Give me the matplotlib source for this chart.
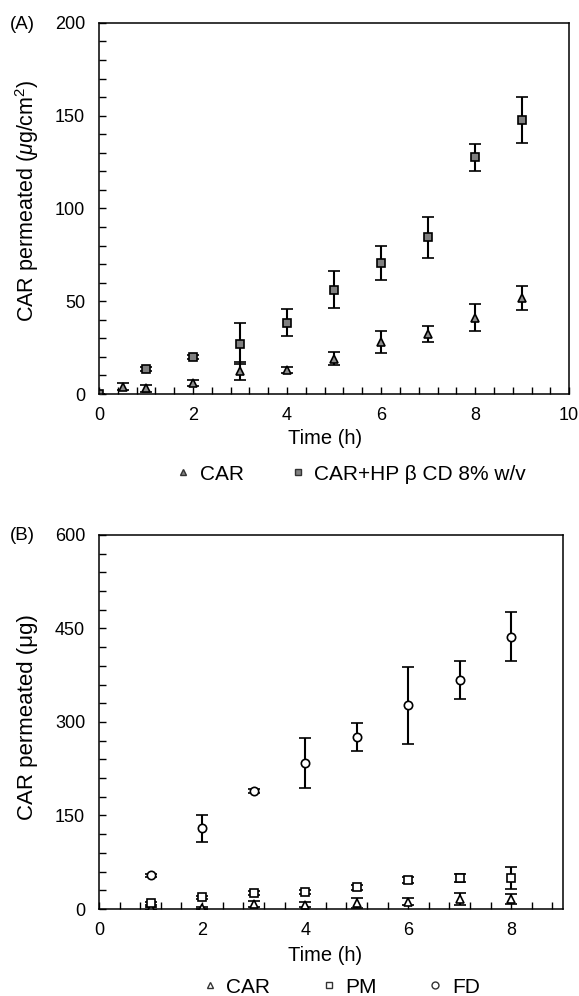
import matplotlib
matplotlib.use("Agg")
import matplotlib.pyplot as plt
from matplotlib.lines import Line2D
from matplotlib.ticker import MultipleLocator

plt.rcParams['font.family'] = ['Liberation Sans', 'DejaVu Sans']
plt.rcParams['mathtext.fontset'] = 'custom'
plt.rcParams['mathtext.rm'] = 'Liberation Sans'
plt.rcParams['mathtext.it'] = 'Liberation Sans:italic'

# (A) permeation per area
a_car_t = [0, 0.5, 1, 2, 3, 4, 5, 6, 7, 8, 9]
a_car = [0, 4, 3, 5.8, 12.4, 13, 19, 28.2, 32.4, 41.2, 51.6]
a_car_err = [0, 2, 2, 1.5, 4.7, 1.5, 3.5, 6, 4.5, 7.3, 6.5]

a_cd_t = [0, 1, 2, 3, 4, 5, 6, 7, 8, 9]
a_cd = [0, 13.3, 19.8, 27.2, 38.5, 56.1, 70.7, 84.5, 127.5, 147.8]
a_cd_err = [0, 1, 1, 11, 7.3, 10, 9, 11, 7.5, 12.5]

# (B) permeated amount
b_t = [1, 2, 3, 4, 5, 6, 7, 8]
b_car = [1, 1.6, 8.5, 7, 9.6, 12, 16, 16.6]
b_car_err = [2, 2, 5, 4, 8, 6, 10, 8]
b_pm = [9, 18.7, 25.6, 27.8, 35.3, 47, 49.7, 49.7]
b_pm_err = [2, 3, 3, 3, 4, 5, 6, 17]
b_fd = [54, 129.3, 189, 234.5, 275.6, 326.4, 367, 437]
b_fd_err = [3, 21, 3, 40, 22, 62, 30, 40]

fig = plt.figure(figsize=(5.79, 9.96), dpi=100)
axA = fig.add_axes([0.171, 0.6044, 0.812, 0.3726])
axB = fig.add_axes([0.171, 0.0873, 0.801, 0.3757])

eb = dict(ls='none', ecolor='black', elinewidth=1.5, capsize=4, capthick=1.5,
          markeredgecolor='black', markeredgewidth=1.2, ms=6)

axA.errorbar(a_car_t, a_car, yerr=a_car_err, marker='^', mfc='#8c8c8c', **eb)
axA.errorbar(a_cd_t, a_cd, yerr=a_cd_err, marker='s', mfc='#808080', **eb)

axB.errorbar(b_t, b_car, yerr=b_car_err, marker='^', mfc='white', **eb)
axB.errorbar(b_t, b_pm, yerr=b_pm_err, marker='s', mfc='white', **eb)
axB.errorbar(b_t, b_fd, yerr=b_fd_err, marker='o', mfc='white', **eb)

def style(ax, xmax, ymax, ymaj, ymin):
    ax.set_xlim(0, xmax)
    ax.set_ylim(0, ymax)
    ax.xaxis.set_major_locator(MultipleLocator(2))
    ax.xaxis.set_minor_locator(MultipleLocator(0.4))
    ax.yaxis.set_major_locator(MultipleLocator(ymaj))
    ax.yaxis.set_minor_locator(MultipleLocator(ymin))
    ax.tick_params(which='both', direction='in', length=5, width=1,
                   top=False, right=False, labelsize=13)
    ax.tick_params(axis='x', pad=9)
    ax.tick_params(axis='y', pad=10)
    for s in ax.spines.values():
        s.set_linewidth(1.1)
    ax.set_xlabel('Time (h)', fontsize=14.5, va='center')

style(axA, 10, 200, 50, 10)
style(axB, 9, 600, 150, 30)

axA.xaxis.set_label_coords(0.48, -0.121)
axB.xaxis.set_label_coords(0.487, -0.123)

axA.set_ylabel(r'CAR permeated ($\mu$g/cm$^2$)', fontsize=15.5, va='center')
axB.set_ylabel('CAR permeated (\u03bcg)', fontsize=16, va='center')
axA.yaxis.set_label_coords(-0.153, 0.52)
axB.yaxis.set_label_coords(-0.155, 0.513)

fig.text(0.017, 0.975, '(A)', fontsize=13.5, va='center')
fig.text(0.017, 0.462, '(B)', fontsize=13.5, va='center')

def mk(marker, fc):
    return Line2D([], [], ls='none', marker=marker, ms=5, mfc=fc,
                  mec='#333333', mew=1)

legA = fig.legend([mk('^', '#808080'), mk('s', '#808080')],
                  ['CAR', 'CAR+HP \u03b2 CD 8% w/v'],
                  loc='center', bbox_to_anchor=(0.605, 0.524), ncol=2,
                  frameon=False, fontsize=15, handlelength=0.8,
                  handletextpad=0.4, columnspacing=2.2,
                  borderpad=0, borderaxespad=0)
legB = fig.legend([mk('^', 'white'), mk('s', 'white'), mk('o', 'white')],
                  ['CAR', 'PM', 'FD'],
                  loc='center', bbox_to_anchor=(0.588, 0.009), ncol=3,
                  frameon=False, fontsize=15, handlelength=0.8,
                  handletextpad=0.4, columnspacing=2.4,
                  borderpad=0, borderaxespad=0)

fig.savefig('out.png', dpi=100)
